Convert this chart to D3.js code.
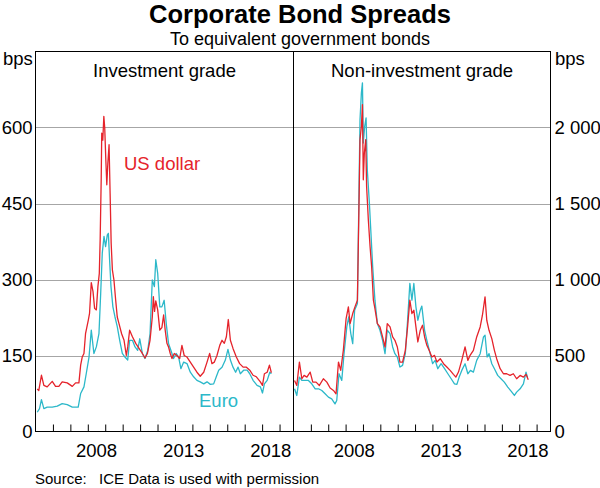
<html>
<head>
  <title>Corporate Bond Spreads</title>
<script src="https://d3js.org/d3.v7.min.js"></script>
<style>
  body { margin: 0; background: #fff; }
  text { font-family: "Liberation Sans", Arial, sans-serif; }
</style>
</head>
<body>
  <script>
    // spreads in bps, [decimal year, value]
    var igUsd = [[2005.10,84],[2005.19,81],[2005.34,111],[2005.48,91],[2005.67,88],[2005.96,99],[2006.15,89],[2006.34,89],
      [2006.53,98],[2006.82,96],[2007.11,89],[2007.30,96],[2007.49,96],[2007.59,131],[2007.68,147],[2007.78,154],[2007.87,193],
      [2008.03,220],[2008.10,233],[2008.20,294],[2008.30,276],[2008.39,243],[2008.49,240],[2008.58,286],[2008.66,312],[2008.71,380],
      [2008.77,500],[2008.80,589],[2008.86,575],[2008.92,622],[2008.97,600],[2009.03,540],[2009.09,487],[2009.15,530],[2009.22,566],
      [2009.28,470],[2009.34,372],[2009.41,319],[2009.50,299],[2009.60,259],[2009.69,226],[2009.79,213],[2009.94,193],[2010.08,180],
      [2010.21,150],[2010.29,167],[2010.40,200],[2010.56,187],[2010.75,174],[2010.94,164],[2011.13,154],[2011.28,145],[2011.42,154],
      [2011.57,180],[2011.70,226],[2011.76,266],[2011.83,237],[2011.90,258],[2012.01,240],[2012.13,200],[2012.25,205],[2012.35,230],
      [2012.44,200],[2012.54,174],[2012.63,167],[2012.73,154],[2012.83,144],[2012.96,154],[2013.11,150],[2013.27,144],[2013.40,170],
      [2013.53,150],[2013.69,147],[2013.88,137],[2014.07,127],[2014.26,117],[2014.45,109],[2014.65,117],[2014.84,137],[2014.99,154],
      [2015.12,134],[2015.26,137],[2015.41,150],[2015.57,170],[2015.70,180],[2015.83,174],[2015.95,187],[2016.06,221],[2016.18,180],
      [2016.33,164],[2016.52,147],[2016.71,134],[2016.91,127],[2017.10,127],[2017.29,121],[2017.48,111],[2017.67,108],[2017.90,98],
      [2018.02,91],[2018.13,114],[2018.29,117],[2018.42,131],[2018.53,116]];

    var igEur = [[2005.10,38],[2005.23,45],[2005.34,63],[2005.48,45],[2005.67,48],[2005.96,48],[2006.25,50],[2006.53,55],
      [2006.82,53],[2007.11,48],[2007.45,48],[2007.59,75],[2007.78,88],[2007.91,114],[2008.07,147],[2008.20,200],[2008.35,154],
      [2008.49,167],[2008.64,193],[2008.74,273],[2008.83,352],[2008.93,385],[2009.02,365],[2009.12,388],[2009.18,391],[2009.25,339],
      [2009.33,286],[2009.44,246],[2009.56,226],[2009.69,207],[2009.83,180],[2009.98,154],[2010.13,147],[2010.29,141],[2010.40,180],
      [2010.56,180],[2010.71,167],[2010.86,160],[2010.98,183],[2011.13,154],[2011.28,144],[2011.44,160],[2011.57,193],[2011.70,299],
      [2011.82,286],[2011.90,339],[2012.01,312],[2012.13,246],[2012.25,246],[2012.38,259],[2012.50,213],[2012.63,174],[2012.77,160],
      [2012.92,144],[2013.07,154],[2013.21,147],[2013.34,124],[2013.50,137],[2013.69,134],[2013.88,117],[2014.07,108],[2014.26,101],
      [2014.45,98],[2014.65,94],[2014.84,98],[2015.03,93],[2015.22,94],[2015.37,108],[2015.51,121],[2015.70,127],[2015.89,141],
      [2016.04,162],[2016.18,141],[2016.33,127],[2016.48,117],[2016.62,127],[2016.75,114],[2016.94,121],[2017.14,121],[2017.29,114],
      [2017.48,101],[2017.71,91],[2017.90,88],[2018.02,76],[2018.13,94],[2018.29,101],[2018.44,117],[2018.53,114]];

    var hyUsd = [[2005.06,336],[2005.19,303],[2005.34,457],[2005.48,347],[2005.61,369],[2005.77,358],[2005.96,391],[2006.11,325],
      [2006.30,325],[2006.49,303],[2006.72,347],[2006.92,325],[2007.11,286],[2007.30,270],[2007.45,248],[2007.59,457],[2007.72,402],
      [2007.87,534],[2008.03,743],[2008.16,820],[2008.26,710],[2008.41,776],[2008.54,820],[2008.68,864],[2008.77,1480],[2008.83,1920],
      [2008.91,2008],[2008.97,2151],[2009.02,1656],[2009.08,1832],[2009.16,1920],[2009.21,1612],[2009.31,1392],[2009.41,1216],
      [2009.50,1084],[2009.60,864],[2009.69,809],[2009.83,710],[2009.98,688],[2010.13,622],[2010.27,556],[2010.40,710],[2010.56,688],
      [2010.71,622],[2010.84,600],[2010.98,556],[2011.13,457],[2011.28,457],[2011.44,534],[2011.57,688],[2011.70,864],[2011.82,776],
      [2011.93,798],[2012.05,688],[2012.16,589],[2012.30,666],[2012.43,699],[2012.55,622],[2012.68,567],[2012.81,534],[2012.97,490],
      [2013.12,501],[2013.26,457],[2013.45,479],[2013.64,446],[2013.83,424],[2014.02,402],[2014.21,376],[2014.35,358],[2014.50,391],
      [2014.69,468],[2014.88,556],[2015.04,468],[2015.17,501],[2015.36,534],[2015.55,622],[2015.75,688],[2015.88,765],[2016.03,886],
      [2016.13,732],[2016.26,666],[2016.42,611],[2016.57,534],[2016.70,479],[2016.90,413],[2017.09,380],[2017.28,380],[2017.47,369],
      [2017.66,380],[2017.85,347],[2018.05,369],[2018.24,358],[2018.39,376],[2018.52,341]];

    var hyEur = [[2005.06,281],[2005.19,237],[2005.34,358],[2005.48,336],[2005.67,336],[2005.86,336],[2006.05,314],[2006.25,281],
      [2006.44,281],[2006.63,270],[2006.82,248],[2007.01,226],[2007.20,215],[2007.39,182],[2007.49,204],[2007.62,380],[2007.78,336],
      [2007.91,512],[2008.07,688],[2008.18,754],[2008.30,644],[2008.41,578],[2008.52,798],[2008.68,842],[2008.77,1568],[2008.83,2052],
      [2008.91,2228],[2008.97,2294],[2009.02,1898],[2009.10,2008],[2009.18,2063],[2009.25,1722],[2009.37,1502],[2009.46,1304],
      [2009.56,1084],[2009.69,864],[2009.83,710],[2009.98,666],[2010.13,600],[2010.27,512],[2010.40,666],[2010.56,644],[2010.71,556],
      [2010.84,512],[2010.98,490],[2011.13,424],[2011.28,435],[2011.44,512],[2011.57,732],[2011.70,974],[2011.82,864],[2011.93,974],
      [2012.05,820],[2012.16,732],[2012.30,798],[2012.39,825],[2012.55,666],[2012.68,600],[2012.87,512],[2013.01,446],[2013.16,468],
      [2013.31,413],[2013.50,446],[2013.70,413],[2013.89,380],[2014.08,347],[2014.27,314],[2014.41,310],[2014.54,358],[2014.69,402],
      [2014.88,446],[2015.04,380],[2015.19,402],[2015.36,391],[2015.55,468],[2015.75,512],[2015.94,622],[2016.03,633],[2016.15,490],
      [2016.26,512],[2016.42,446],[2016.57,413],[2016.76,369],[2016.95,347],[2017.14,325],[2017.34,292],[2017.53,266],[2017.72,237],
      [2017.85,259],[2018.05,281],[2018.24,314],[2018.39,391],[2018.47,358]];

    var yearLabels = [2008, 2013, 2018];
    var igTicks = [0, 150, 300, 450, 600];
    var hyTicks = [0, 500, 1000, 1500, 2000];

    var width = 600, height = 488;
    var plotTop = 51.5, plotBottom = 431.5, plotLeft = 35.5, plotMid = 293.5, plotRight = 550.5;
    var red = "#e5232b", cyan = "#2cb8c9";

    var xLeft = d3.scaleLinear().domain([2005, 2019.8]).range([plotLeft, plotMid]);
    var xRight = d3.scaleLinear().domain([2005, 2019.8]).range([plotMid, plotRight]);
    var yLeft = d3.scaleLinear().domain([0, 750]).range([plotBottom, plotTop]);
    var yRight = d3.scaleLinear().domain([0, 2500]).range([plotBottom, plotTop]);

    var spaced = d3.formatLocale({decimal: ".", thousands: " ", grouping: [3], currency: ["", ""]}).format(",");

    var svg = d3.select("body").append("svg")
            .attr("width", width)
            .attr("height", height);

    // horizontal grid across both panels
    svg.selectAll(".grid")
        .data(igTicks.slice(1))
        .enter().append("line")
          .attr("x1", plotLeft).attr("x2", plotRight)
          .attr("y1", function(d){ return Math.round(yLeft(d)) + 0.5; })
          .attr("y2", function(d){ return Math.round(yLeft(d)) + 0.5; })
          .attr("stroke", "#a6a6a6").attr("stroke-width", 1);

    // year ticks, pointing up into the panels
    function xAxis(x) {
      var g = svg.append("g")
          .attr("transform", "translate(0," + plotBottom + ")")
          .call(d3.axisBottom(x).tickValues(d3.range(2006, 2020)).tickSize(-7).tickFormat(""));
      g.select(".domain").remove();
      g.selectAll("line").attr("stroke", "#000");
      svg.append("g").selectAll("text")
          .data(yearLabels)
          .enter().append("text")
            .attr("x", function(d){ return x(d + 0.5); })
            .attr("y", 457)
            .attr("text-anchor", "middle")
            .attr("font-size", "18.5px")
            .text(function(d){ return d; });
    }
    xAxis(xLeft);
    xAxis(xRight);

    var lineL = d3.line().x(function(d){ return xLeft(d[0]); }).y(function(d){ return yLeft(d[1]); });
    var lineR = d3.line().x(function(d){ return xRight(d[0]); }).y(function(d){ return yRight(d[1]); });

    function draw(data, line, colour) {
      svg.append("path").datum(data)
        .attr("d", line)
        .attr("fill", "none")
        .attr("stroke", colour)
        .attr("stroke-width", 1.3)
        .attr("stroke-linejoin", "round");
    }
    draw(igEur, lineL, cyan);
    draw(igUsd, lineL, red);
    draw(hyEur, lineR, cyan);
    draw(hyUsd, lineR, red);

    // frame and divider
    svg.append("rect")
        .attr("x", plotLeft).attr("y", plotTop)
        .attr("width", plotRight - plotLeft).attr("height", plotBottom - plotTop)
        .attr("fill", "none").attr("stroke", "#000").attr("stroke-width", 1);
    svg.append("line")
        .attr("x1", plotMid).attr("x2", plotMid).attr("y1", plotTop).attr("y2", plotBottom)
        .attr("stroke", "#000");

    // y axes
    var ax1 = svg.append("g")
        .attr("transform", "translate(" + plotLeft + ",0)")
        .call(d3.axisLeft(yLeft).tickValues(igTicks).tickSize(0).tickPadding(3));
    var ax2 = svg.append("g")
        .attr("transform", "translate(" + plotRight + ",0)")
        .call(d3.axisRight(yRight).tickValues(hyTicks).tickSize(0).tickPadding(4).tickFormat(spaced));
    [ax1, ax2].forEach(function(a){
      a.select(".domain").remove();
      a.selectAll("text").attr("font-size", "18.5px").attr("fill", "#000")
        .attr("font-family", "Liberation Sans, Arial, sans-serif");
    });

    function label(x, y, str, opts) {
      opts = opts || {};
      svg.append("text")
        .attr("x", x).attr("y", y)
        .attr("text-anchor", opts.anchor || "start")
        .attr("font-size", opts.size || "18.5px")
        .attr("font-weight", opts.weight || "normal")
        .attr("fill", opts.fill || "#000")
        .text(str);
    }
    label(300, 23.2, "Corporate Bond Spreads", {anchor: "middle", size: "25.5px", weight: "bold"});
    label(300, 45, "To equivalent government bonds", {anchor: "middle", size: "18px"});
    label(3, 65, "bps");
    label(555, 65, "bps");
    label((plotLeft + plotMid) / 2, 77, "Investment grade", {anchor: "middle"});
    label((plotMid + plotRight) / 2, 77, "Non-investment grade", {anchor: "middle"});
    label(124, 170, "US dollar", {fill: red});
    label(199, 407, "Euro", {fill: cyan});
    label(35, 484, "Source:", {size: "15px"});
    label(99, 484, "ICE Data is used with permission", {size: "15px"});
  </script>
</body>
</html>
